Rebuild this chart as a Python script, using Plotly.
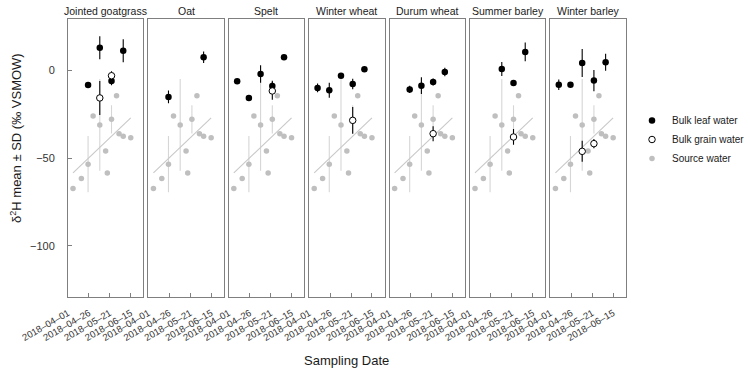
import numpy as np
import pandas as pd
import plotly.graph_objects as go

crops = ["Jointed goatgrass", "Oat", "Spelt", "Winter wheat", "Durum wheat", "Summer barley", "Winter barley"]

source_dates = ["2018-04-07", "2018-04-17", "2018-04-25", "2018-05-01", "2018-05-09", "2018-05-16",
                "2018-05-18", "2018-05-23", "2018-05-29", "2018-06-01", "2018-06-06", "2018-06-15"]
source_mean = [-67.3, -61.6, -53.4, -25.9, -31.0, -45.9, -58.5, -27.8, -14.3, -36.0, -37.5, -38.3]
source_sd = [0, 0, 16.1, 0, 26.2, 0, 0, 8.1, 0, 0, 0, 0]

leaf_dates = ["2018-04-11", "2018-04-25", "2018-05-09", "2018-05-23", "2018-06-06"]
leaf_mean = [
    [None, -8.2, 13.1, -5.9, 11.4],
    [None, -15.0, None, None, 7.6],
    [-6.1, -15.6, -1.9, -8.8, 7.6],
    [-9.9, -11.2, -2.9, -7.6, 0.8],
    [None, -10.7, -8.6, -6.5, -0.8],
    [None, None, 1.0, -7.0, 10.7],
    [-8.0, -8.0, 4.4, -5.7, 4.8],
]
leaf_sd = [
    [None, 1.5, 6.6, 2.5, 6.6],
    [None, 3.6, None, None, 3.3],
    [1.0, 1.0, 5.0, 3.0, 1.0],
    [2.5, 4.3, 1.0, 3.0, 1.0],
    [None, 2.0, 4.8, 2.0, 2.4],
    [None, None, 4.0, 1.0, 5.4],
    [3.0, 1.0, 8.0, 6.0, 4.8],
]

grain_dates = ["2018-05-09", "2018-05-23"]
grain_mean = [
    [-15.6, -2.9],
    [None, None],
    [None, -11.6],
    [None, -28.4],
    [None, -36.0],
    [None, -37.9],
    [-46.1, -41.7],
]
grain_sd = [
    [9.7, 2.5],
    [None, None],
    [None, 5.0],
    [None, 7.6],
    [None, 4.3],
    [None, 4.5],
    [6.0, 2.7],
]

tick_dates = ["2018-04-01", "2018-04-26", "2018-05-21", "2018-06-15"]
tick_text = ["2018\u201304\u201301", "2018\u201304\u201326", "2018\u201305\u201321", "2018\u201306\u201315"]
y_ticks = [0, -50, -100]

# ---- styling / layout ----
W, H = 750, 372
FONT = "Liberation Sans, Arial, Helvetica, sans-serif"
BORDER = "#7f7f7f"
SRC_COL = "#bfbfbf"
SRC_ERR = "#d6d6d6"
TREND = "#c8c8c8"

panel_left0, panel_step, panel_w = 68, 80.4, 75.3
top_px, bottom_px = 19, 297

fig = go.Figure()

# trend line from linear fit of source water
sd_ts = pd.to_datetime(source_dates)
days = (sd_ts - sd_ts.min()).days.values.astype(float)
coef = np.polyfit(days, np.array(source_mean), 1)
trend_x = [sd_ts.min(), sd_ts.max()]
trend_y = [np.polyval(coef, 0), np.polyval(coef, days.max())]

layout_axes = {}
for i, crop in enumerate(crops):
    n = "" if i == 0 else str(i + 1)
    xa, ya = "x" + n, "y" + n
    first = i == 0
    fig.add_trace(go.Scatter(
        x=source_dates, y=source_mean, mode="markers", xaxis=xa, yaxis=ya,
        marker=dict(color=SRC_COL, size=5.5),
        error_y=dict(type="data", array=source_sd, color=SRC_ERR, thickness=1.1, width=0),
        name="Source water", legendrank=3, showlegend=False, hoverinfo="skip"))
    fig.add_trace(go.Scatter(
        x=trend_x, y=trend_y, mode="lines", xaxis=xa, yaxis=ya,
        line=dict(color=TREND, width=1.1), showlegend=False, hoverinfo="skip"))
    fig.add_trace(go.Scatter(
        x=leaf_dates, y=leaf_mean[i], mode="markers", xaxis=xa, yaxis=ya,
        marker=dict(color="black", size=6.5),
        error_y=dict(type="data", array=[s if s is not None else 0 for s in leaf_sd[i]],
                     color="black", thickness=1.1, width=0),
        name="Bulk leaf water", legendrank=1, showlegend=first))
    fig.add_trace(go.Scatter(
        x=grain_dates, y=grain_mean[i], mode="markers", xaxis=xa, yaxis=ya,
        marker=dict(color="white", size=6.5, line=dict(color="black", width=1)),
        error_y=dict(type="data", array=[s if s is not None else 0 for s in grain_sd[i]],
                     color="black", thickness=1.1, width=0),
        name="Bulk grain water", legendrank=2, showlegend=first))
    if first:
        fig.add_trace(go.Scatter(
            x=[None], y=[None], mode="markers", xaxis=xa, yaxis=ya,
            marker=dict(color=SRC_COL, size=5.5), name="Source water",
            legendrank=3, showlegend=True))

    left = panel_left0 + panel_step * i
    right = left + panel_w
    layout_axes["xaxis" + n] = dict(
        domain=[left / W, right / W], range=["2018-04-01", "2018-06-30"],
        tickvals=tick_dates, ticktext=tick_text, tickangle=-30,
        ticks="inside", ticklen=4, tickcolor=BORDER, tickwidth=1,
        showline=True, mirror=True, linecolor=BORDER, linewidth=1,
        showgrid=False, zeroline=False, anchor=ya, automargin=False,
        tickfont=dict(size=9.5, color="#333333", family=FONT), ticklabelstandoff=6)
    layout_axes["yaxis" + n] = dict(
        domain=[1 - bottom_px / H, 1 - top_px / H], range=[-129.3, 29.5],
        tickvals=y_ticks, ticks="inside" if first else "", ticklen=4, tickcolor=BORDER,
        showticklabels=first, showline=True, mirror=True, linecolor=BORDER, linewidth=1,
        showgrid=False, zeroline=False, anchor=xa, automargin=False,
        tickfont=dict(size=11, color="#333333", family=FONT), ticklabelstandoff=10)
    fig.add_annotation(text=crop, x=(left + right) / 2 / W, y=1 - 11 / H, xref="paper", yref="paper",
                       showarrow=False, font=dict(size=10.5, color="#1a1a1a", family=FONT),
                       xanchor="center", yanchor="middle")

fig.add_annotation(text="Sampling Date", x=346.5 / W, y=1 - 360 / H, xref="paper", yref="paper",
                   showarrow=False, font=dict(size=13, color="#1a1a1a", family=FONT),
                   xanchor="center", yanchor="middle")
fig.add_annotation(text="\u03b4<sup>2</sup>H mean \u00b1 SD (\u2030 VSMOW)", x=16 / W, y=1 - 138 / H,
                   xref="paper", yref="paper", textangle=-90, showarrow=False,
                   font=dict(size=13, color="#1a1a1a", family=FONT),
                   xanchor="center", yanchor="middle")

fig.update_layout(
    width=W, height=H, margin=dict(l=0, r=0, t=0, b=0, autoexpand=False),
    plot_bgcolor="white", paper_bgcolor="white",
    font=dict(family=FONT, color="#1a1a1a"),
    legend=dict(x=1.0, y=1 - 106 / H, xanchor="right", yanchor="top",
                font=dict(size=10, color="#1a1a1a", family=FONT),
                bgcolor="rgba(0,0,0,0)", traceorder="normal", itemclick=False),
    **layout_axes)

fig.write_html("out.html")
